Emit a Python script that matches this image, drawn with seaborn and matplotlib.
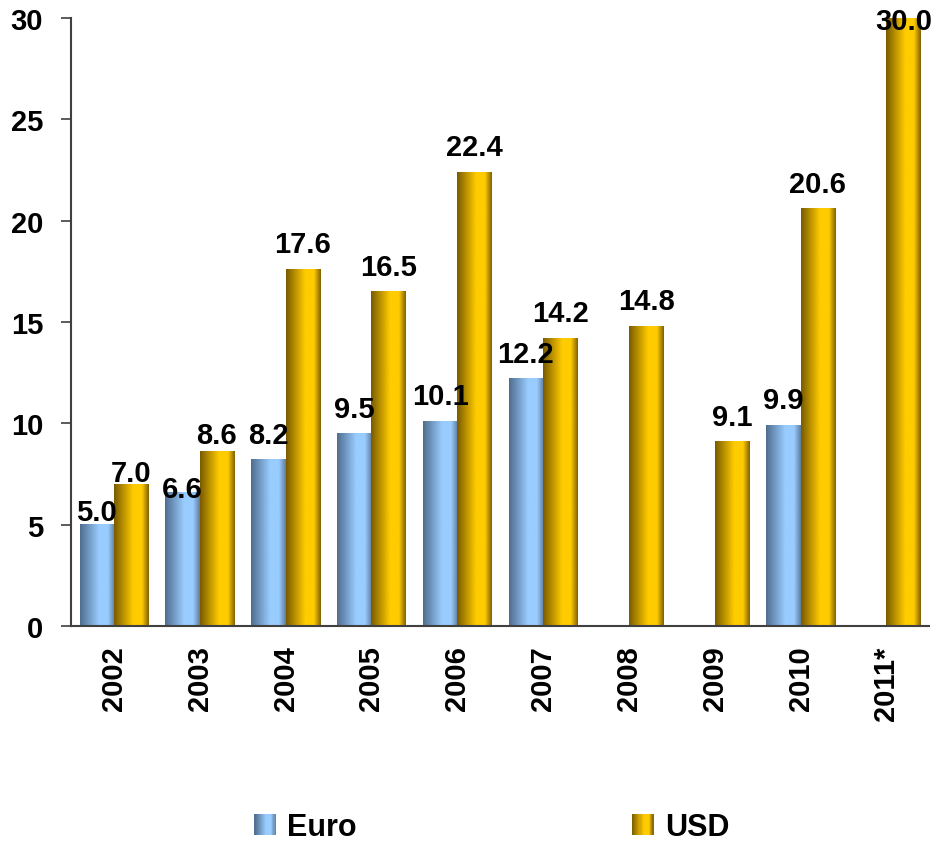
import numpy as np
import pandas as pd
import matplotlib
matplotlib.use('Agg')
import matplotlib.pyplot as plt
import seaborn as sns
from matplotlib.colors import LinearSegmentedColormap
from matplotlib.legend_handler import HandlerBase
from matplotlib.patches import Rectangle

years = ['2002', '2003', '2004', '2005', '2006', '2007', '2008', '2009', '2010', '2011*']
euro = [5.0, 6.6, 8.2, 9.5, 10.1, 12.2, np.nan, np.nan, 9.9, np.nan]
usd = [7.0, 8.6, 17.6, 16.5, 22.4, 14.2, 14.8, 9.1, 20.6, 30.0]
series = ['Euro', 'USD']

df = pd.DataFrame({'year': years * 2,
                   'value': euro + usd,
                   'currency': ['Euro'] * len(years) + ['USD'] * len(years)})

# label baseline offset above bar top, in points (a few labels were moved by hand)
label_gap = 12.2
label_gap_special = {('Euro', '2002'): 3.6, ('USD', '2002'): 2.2,
                     ('Euro', '2003'): -3.6, ('USD', '2003'): 6.5,
                     ('USD', '2011*'): -7.9}

# gradient colormaps (dark edge -> light -> dark edge)
cm_euro = LinearSegmentedColormap.from_list('euro', [(0, '#4f6d8e'), (0.55, '#99ccff'),
                                                     (0.8, '#99ccff'), (1, '#5f7d9e')])
cm_usd = LinearSegmentedColormap.from_list('usd', [(0, '#7a5a00'), (0.55, '#ffcc00'),
                                                   (0.8, '#ffcc00'), (1, '#806000')])
cmaps = {'Euro': cm_euro, 'USD': cm_usd}

sns.set_style('white', rc={'text.color': 'black', 'xtick.color': 'black',
                           'ytick.color': 'black', 'axes.labelcolor': 'black'})
plt.rcParams['font.family'] = ['Liberation Sans', 'DejaVu Sans']
plt.rcParams['font.weight'] = 'bold'

fig = plt.figure(figsize=(9.38, 8.45), dpi=100)
ax = fig.add_axes([0.0757, 0.258, 0.915, 0.7195])

sns.barplot(data=df, x='year', y='value', hue='currency', hue_order=series,
            width=0.8, legend=False, ax=ax, palette=['#99ccff', '#ffcc00'])

ymax = 30
grad = np.linspace(0, 1, 256).reshape(1, -1)
for name, cont in zip(series, ax.containers):
    for yr, bar in zip(years, cont):
        h = bar.get_height()
        if not np.isfinite(h):
            continue
        x0 = bar.get_x()
        x1 = x0 + bar.get_width()
        bar.set_visible(False)
        ax.imshow(grad, extent=[x0, x1, 0, h], aspect='auto', cmap=cmaps[name], zorder=2)
        dy = label_gap_special.get((name, yr), label_gap)
        ax.annotate(f'{h:.1f}', (x0 + bar.get_width() / 2, h), xytext=(0, dy),
                    textcoords='offset points', ha='center', va='baseline',
                    fontsize=21, fontweight='bold', annotation_clip=False, zorder=3)

ax.set_xlim(-0.5, len(years) - 0.5)
ax.set_ylim(0, ymax)
ax.set_yticks([0, 5, 10, 15, 20, 25, 30])
ax.set_xticks(range(len(years)))
ax.set_xticklabels(years, rotation=90, fontsize=21, fontweight='bold')
ax.set_xticks(np.arange(-0.5, len(years), 1), minor=True)
ax.tick_params(axis='x', which='major', length=0, pad=14)
ax.tick_params(axis='x', which='minor', length=8, width=1.2, color='#404040', direction='out')
ax.tick_params(axis='y', length=7, width=1.2, color='#404040', direction='out', pad=13,
               labelsize=21, left=True, labelcolor='black')
for lab in ax.get_yticklabels():
    lab.set_fontweight('bold')
ax.set_xlabel('')
ax.set_ylabel('')
for s in ['top', 'right']:
    ax.spines[s].set_visible(False)
for s in ['left', 'bottom']:
    ax.spines[s].set_color('#404040')
    ax.spines[s].set_linewidth(1.5)


class GradientHandler(HandlerBase):
    def __init__(self, cmap):
        super().__init__()
        self.cmap = cmap

    def create_artists(self, legend, orig_handle, xdescent, ydescent, width, height,
                       fontsize, trans):
        n = 20
        arts = []
        for i in range(n):
            r = Rectangle((-xdescent + i * width / n, -ydescent), width / n + 0.3, height,
                          facecolor=self.cmap((i + 0.5) / n), edgecolor='none', transform=trans)
            arts.append(r)
        return arts


h_euro = Rectangle((0, 0), 1, 1)
h_usd = Rectangle((0, 0), 1, 1)
fig.legend([h_euro, h_usd], series, loc='center', bbox_to_anchor=(0.5245, 0.02),
           ncol=2, frameon=False, columnspacing=9.0, handlelength=0.69, handleheight=0.69,
           handletextpad=0.39, prop={'size': 22, 'weight': 'bold'},
           handler_map={h_euro: GradientHandler(cm_euro), h_usd: GradientHandler(cm_usd)})

fig.savefig('out.png', dpi=100)
